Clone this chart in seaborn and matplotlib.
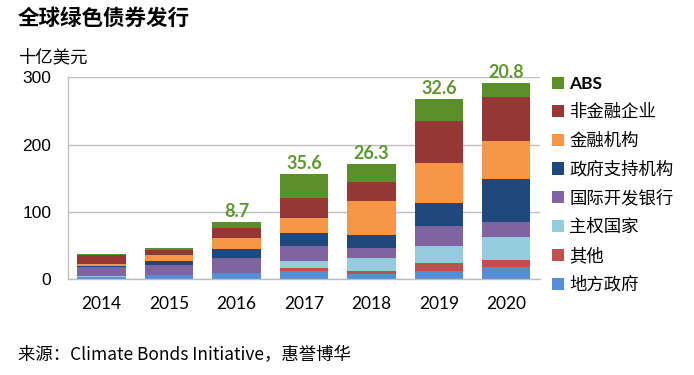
import pandas as pd
import numpy as np
import matplotlib
matplotlib.use("Agg")
import matplotlib.pyplot as plt
import seaborn as sns
from matplotlib.patches import Patch

# 数据（十亿美元），自下而上堆叠
years = ["2014", "2015", "2016", "2017", "2018", "2019", "2020"]
local_gov = [4, 6.5, 9, 13, 7.5, 12.4, 18]          # 地方政府
other = [0, 0, 0, 3.5, 5.5, 12.4, 10.4]              # 其他
sovereign = [0.5, 0.5, 0.5, 11, 18, 25, 34.7]        # 主权国家
dev_bank = [14, 15, 22, 22, 16, 29, 22.3]            # 国际开发银行
gov_backed = [2, 5, 14, 19, 19, 35, 64]              # 政府支持机构
financial = [3, 9, 16, 23, 50, 59, 56]               # 金融机构
non_financial = [12, 7.5, 14.5, 30, 29, 62, 65]      # 非金融企业
abs_vals = [2.5, 3, 8.7, 35.6, 26.3, 32.6, 20.8]     # ABS
abs_labels = ["", "", "8.7", "35.6", "26.3", "32.6", "20.8"]

series_names = ["地方政府", "其他", "主权国家", "国际开发银行",
                "政府支持机构", "金融机构", "非金融企业", "ABS"]
series_vals = [local_gov, other, sovereign, dev_bank,
               gov_backed, financial, non_financial, abs_vals]
series_colors = ["#558ED5", "#C0504D", "#93CDDD", "#8064A2",
                 "#1F497D", "#F79646", "#953735", "#5A8F29"]

cjk = ["Noto Sans CJK SC", "DejaVu Sans"]

sns.set_theme(style="white")
plt.rcParams["font.family"] = cjk
plt.rcParams["text.color"] = "black"
plt.rcParams["xtick.color"] = "black"
plt.rcParams["ytick.color"] = "black"

fig = plt.figure(figsize=(6.94, 3.75), dpi=100)
ax = fig.add_axes([0.098, 0.255, 0.680, 0.539])

df = pd.DataFrame(dict(zip(series_names, series_vals)), index=years)
cum = df.cumsum(axis=1)

# 堆叠：从累计最高的开始画，后面的覆盖下面部分
for name, color in reversed(list(zip(series_names, series_colors))):
    sns.barplot(x=years, y=cum[name].values, color=color, saturation=1,
                width=0.72, ax=ax, linewidth=0)

totals = cum["ABS"].values
for i, lab in enumerate(abs_labels):
    if lab:
        ax.text(i, totals[i] + 3, lab, ha="center", va="bottom",
                color="#5E9732", fontsize=13, fontweight="bold", family="Lato")

ax.set_ylim(0, 300)
ax.set_xlim(-0.5, 6.5)
ax.set_yticks([0, 100, 200, 300])
ax.yaxis.grid(True, color="#BFBFBF", linewidth=1)
ax.set_axisbelow(True)
for s in ["top", "right"]:
    ax.spines[s].set_visible(False)
for s in ["left", "bottom"]:
    ax.spines[s].set_color("#BFBFBF")
    ax.spines[s].set_linewidth(1)
ax.tick_params(axis="y", length=0, pad=12, labelsize=12.5)
ax.tick_params(axis="x", length=0, pad=12, labelsize=12.5)
for t in ax.get_yticklabels():
    t.set_family("Liberation Sans")
for t in ax.get_xticklabels():
    t.set_family("Lato")
ax.set_xlabel("")
ax.set_ylabel("")

handles = [Patch(facecolor=c, edgecolor="none") for c in reversed(series_colors)]
leg = fig.legend(handles, list(reversed(series_names)), loc="upper left",
                 bbox_to_anchor=(0.785, 0.815), frameon=False, fontsize=12.5,
                 handlelength=0.7, handleheight=0.7, handletextpad=0.3,
                 labelspacing=0.62, borderaxespad=0)
leg.get_texts()[0].set_fontweight("bold")
leg.get_texts()[0].set_family("Lato")

fig.text(0.026, 0.952, "全球绿色债券发行", fontsize=15.5, fontweight="bold",
         va="center", ha="left")
fig.text(0.026, 0.848, "十亿美元", fontsize=12.5, va="center", ha="left")
fig.text(0.026, 0.053, "来源：Climate Bonds Initiative，惠誉博华", fontsize=12.5,
         va="center", ha="left")

fig.savefig("out.png", dpi=100)
